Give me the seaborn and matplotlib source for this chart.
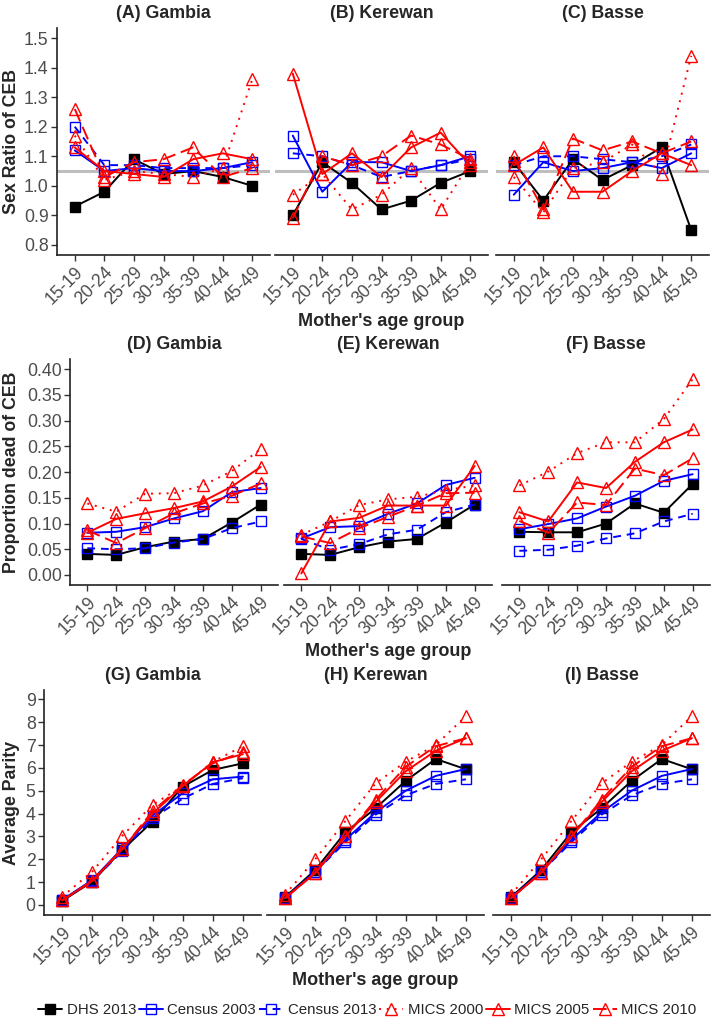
#! /usr/bin/env python3
# -*- coding: utf-8 -*-

import matplotlib
matplotlib.use('Agg')
import matplotlib.pyplot as plt
import numpy as np
import seaborn as sns

ages = ['15-19', '20-24', '25-29', '30-34', '35-39', '40-44', '45-49']
sources = ['DHS 2013', 'Census 2003', 'Census 2013', 'MICS 2000', 'MICS 2005', 'MICS 2010']

#Sex ratio of CEB, rows follow `sources`
sr_gambia = [[0.93, 0.98, 1.09, 1.04, 1.05, 1.03, 1.00],
             [1.12, 1.05, 1.06, 1.05, 1.05, 1.06, 1.08],
             [1.20, 1.07, 1.07, 1.06, 1.06, 1.06, 1.07],
             [1.17, 1.02, 1.05, 1.04, 1.03, 1.06, 1.36],
             [1.13, 1.05, 1.04, 1.03, 1.09, 1.11, 1.09],
             [1.26, 1.03, 1.08, 1.09, 1.13, 1.03, 1.06]]
sr_kerewan = [[0.90, 1.08, 1.01, 0.92, 0.95, 1.01, 1.05],
              [1.17, 0.98, 1.08, 1.08, 1.05, 1.07, 1.10],
              [1.11, 1.10, 1.07, 1.03, 1.05, 1.07, 1.09],
              [0.97, 1.04, 0.92, 0.97, 1.06, 0.92, 1.08],
              [1.38, 1.04, 1.11, 1.03, 1.13, 1.18, 1.07],
              [0.89, 1.10, 1.07, 1.10, 1.17, 1.14, 1.09]]
sr_basse = [[1.08, 0.95, 1.09, 1.02, 1.07, 1.13, 0.85],
            [0.97, 1.08, 1.05, 1.06, 1.08, 1.06, 1.11],
            [1.07, 1.10, 1.10, 1.09, 1.08, 1.10, 1.14],
            [1.03, 0.91, 1.06, 1.08, 1.14, 1.04, 1.44],
            [1.07, 1.13, 0.98, 0.98, 1.05, 1.11, 1.07],
            [1.10, 0.92, 1.16, 1.12, 1.15, 1.11, 1.15]]

#Proportion dead of CEB
pd_gambia = [[0.041, 0.039, 0.054, 0.065, 0.070, 0.102, 0.137],
             [0.082, 0.084, 0.093, 0.110, 0.124, 0.161, 0.169],
             [0.052, 0.050, 0.052, 0.063, 0.070, 0.091, 0.104],
             [0.139, 0.123, 0.158, 0.159, 0.174, 0.202, 0.245],
             [0.082, 0.109, 0.120, 0.130, 0.143, 0.172, 0.210],
             [0.087, 0.062, 0.091, 0.120, 0.139, 0.154, 0.178]]
pd_kerewan = [[0.041, 0.039, 0.054, 0.065, 0.070, 0.102, 0.137],
              [0.071, 0.093, 0.095, 0.119, 0.139, 0.175, 0.189],
              [0.070, 0.049, 0.060, 0.079, 0.088, 0.122, 0.137],
              [0.078, 0.104, 0.136, 0.147, 0.152, 0.165, 0.174],
              [0.003, 0.104, 0.111, 0.135, 0.135, 0.135, 0.212],
              [0.075, 0.062, 0.091, 0.113, 0.135, 0.159, 0.160]]
pd_basse = [[0.084, 0.083, 0.083, 0.100, 0.139, 0.121, 0.177],
            [0.089, 0.099, 0.110, 0.133, 0.154, 0.183, 0.196],
            [0.047, 0.049, 0.057, 0.071, 0.081, 0.104, 0.119],
            [0.174, 0.201, 0.237, 0.258, 0.258, 0.303, 0.381],
            [0.122, 0.104, 0.180, 0.169, 0.220, 0.258, 0.283],
            [0.105, 0.082, 0.141, 0.136, 0.207, 0.194, 0.227]]

#Average parity
par_gambia = [[0.17, 1.02, 2.41, 3.65, 5.18, 5.91, 6.20],
              [0.22, 1.09, 2.48, 3.91, 4.89, 5.50, 5.62],
              [0.20, 1.05, 2.35, 3.80, 4.65, 5.30, 5.55],
              [0.36, 1.46, 3.03, 4.38, 5.20, 6.27, 6.95],
              [0.20, 1.05, 2.45, 4.00, 5.20, 6.25, 6.60],
              [0.20, 1.05, 2.45, 4.10, 5.25, 6.20, 6.70]]
par_kerewan = [[0.34, 1.53, 3.18, 4.23, 5.43, 6.39, 5.94],
               [0.30, 1.45, 2.85, 4.05, 5.00, 5.65, 5.95],
               [0.30, 1.45, 2.75, 3.95, 4.80, 5.30, 5.50],
               [0.45, 2.00, 3.67, 5.32, 6.27, 7.00, 8.27],
               [0.30, 1.40, 3.00, 4.50, 5.85, 6.75, 7.30],
               [0.30, 1.40, 3.00, 4.60, 6.05, 6.95, 7.30]]
par_basse = [[0.34, 1.53, 3.18, 4.23, 5.43, 6.39, 5.94],
             [0.30, 1.45, 2.85, 4.05, 5.00, 5.65, 5.95],
             [0.30, 1.45, 2.75, 3.95, 4.80, 5.30, 5.50],
             [0.45, 2.00, 3.67, 5.32, 6.27, 7.00, 8.27],
             [0.30, 1.40, 3.00, 4.50, 5.85, 6.75, 7.30],
             [0.30, 1.40, 3.00, 4.60, 6.05, 6.95, 7.30]]

#Line styles per source: color, linestyle, marker, filled
styles = {'DHS 2013': ('black', '-', 's', True),
          'Census 2003': ('blue', '-', 's', False),
          'Census 2013': ('blue', (0, (4, 3)), 's', False),
          'MICS 2000': ('red', (0, (1, 3)), '^', False),
          'MICS 2005': ('red', '-', '^', False),
          'MICS 2010': ('red', (0, (7, 3)), '^', False)}

sns.set_style('white')
plt.rcParams['font.family'] = ['Liberation Sans', 'DejaVu Sans']

W, H = 713, 1022
fig = plt.figure(figsize=(W / 100, H / 100), dpi=100)

#pixel layout of each row of panels
rows = [dict(data=[sr_gambia, sr_kerewan, sr_basse],
             titles=['(A) Gambia', '(B) Kerewan', '(C) Basse'],
             lefts=[57, 275, 496], width=213, top=28, bottom=255,
             ylim=(0.766, 1.534), yticks=np.arange(0.8, 1.51, 0.1), fmt='%.1f',
             ylabel='Sex Ratio of CEB'),
        dict(data=[pd_gambia, pd_kerewan, pd_basse],
             titles=['(D) Gambia', '(E) Kerewan', '(F) Basse'],
             lefts=[70, 284, 502], width=208, top=359, bottom=585,
             ylim=(-0.0195, 0.42), yticks=np.arange(0, 0.401, 0.05), fmt='%.2f',
             ylabel='Proportion dead of CEB'),
        dict(data=[par_gambia, par_kerewan, par_basse],
             titles=['(G) Gambia', '(H) Kerewan', '(I) Basse'],
             lefts=[44, 267, 493], width=217, top=690, bottom=915,
             ylim=(-0.44, 9.41), yticks=np.arange(0, 10), fmt='%d',
             ylabel='Average Parity')]

for r, row in enumerate(rows):
    for c in range(3):
        l = row['lefts'][c]
        ax = fig.add_axes([l / W, 1 - row['bottom'] / H, row['width'] / W,
                           (row['bottom'] - row['top']) / H])
        if r == 0:
            ax.axhline(1.05, color='#BEBEBE', lw=2.2, zorder=0)
        for src, vals in zip(sources, row['data'][c]):
            color, ls, mk, filled = styles[src]
            sns.lineplot(x=ages, y=vals, ax=ax, color=color, linestyle=ls, lw=1.4,
                         marker=mk, markersize=6.5 if mk == 's' else 8.5,
                         mfc=color if filled else 'none', mec=color, mew=1.0,
                         label=src, legend=False, errorbar=None, sort=False)
        ax.set_xlim(-0.6, 6.6)
        ax.set_ylim(*row['ylim'])
        ax.set_yticks(row['yticks'])
        ax.set_yticklabels([row['fmt'] % v for v in row['yticks']])
        ax.set_xticks(range(len(ages)))
        ax.set_xticklabels(ages, rotation=45, ha='right', rotation_mode='anchor')
        ax.tick_params(axis='both', length=4, width=1, color='#333333', labelsize=12.8,
                       labelcolor='#4D4D4D', pad=2, bottom=True, left=True)
        sns.despine(ax=ax)
        for sp in ['left', 'bottom']:
            ax.spines[sp].set_color('#222222')
            ax.spines[sp].set_linewidth(1.2)
        ax.set_title(row['titles'][c], fontsize=12.8, fontweight='bold', pad=7)
        ax.set_xlabel('')
        ax.set_ylabel('')
        if c == 0:
            ax.set_ylabel(row['ylabel'], fontsize=12.8, fontweight='bold')
            ax.yaxis.set_label_coords(-(l - 20) / row['width'], 0.5)
        else:
            ax.spines['left'].set_visible(False)
            ax.tick_params(axis='y', left=False, labelleft=False)
        if c == 1:
            ax.set_xlabel("Mother's age group", fontsize=13, fontweight='bold')
            ax.xaxis.set_label_coords(0.5, -0.255)
        if r == 0 and c == 0:
            handles, labels = ax.get_legend_handles_labels()

fig.legend(handles, labels, loc='center', bbox_to_anchor=(0.515, 1 - 1010 / H), ncol=6,
           frameon=False, fontsize=10.8, handlelength=1.6, handletextpad=0.3,
           columnspacing=0.2, borderaxespad=0)

fig.savefig('out.png', dpi=100)
plt.close()
